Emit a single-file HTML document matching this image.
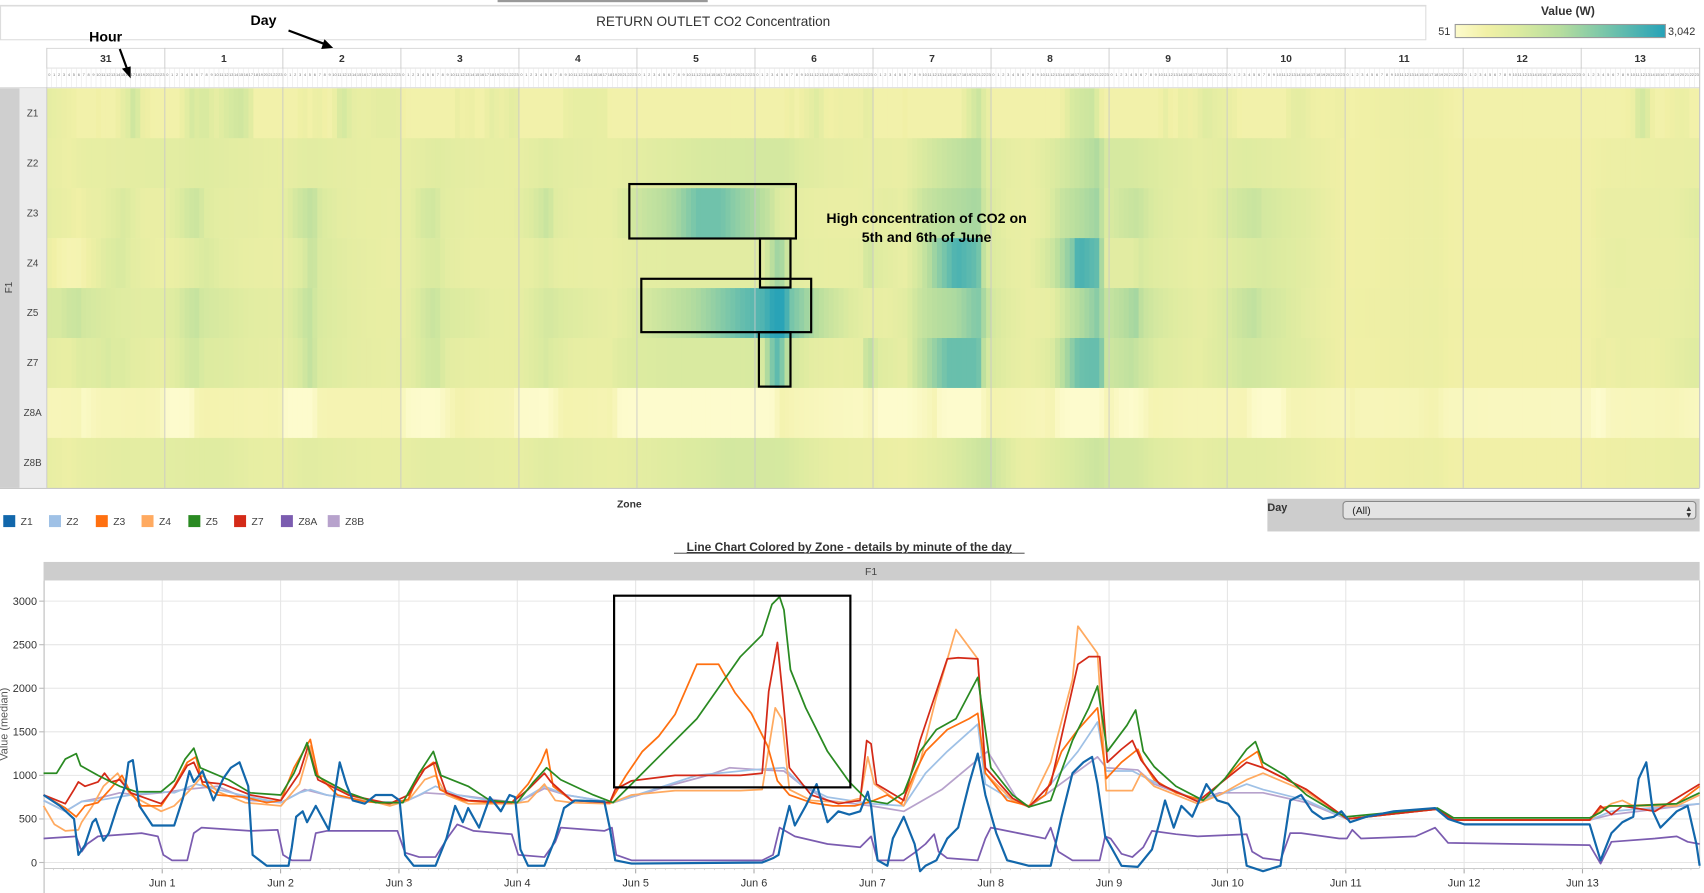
<!DOCTYPE html>
<html><head><meta charset="utf-8"><style>
html,body{margin:0;padding:0;background:#fff;overflow:hidden}
svg{display:block}
text{font-family:"Liberation Sans",sans-serif}
</style></head><body>
<svg id="s" width="1704" height="893" viewBox="0 0 1565 820" preserveAspectRatio="none" xmlns="http://www.w3.org/2000/svg">
<defs>
<linearGradient id="lg" x1="0" x2="1" y1="0" y2="0">
<stop offset="0" stop-color="#fdfbcd"/><stop offset="0.15" stop-color="#f1f0a6"/><stop offset="0.3" stop-color="#dceba0"/><stop offset="0.5" stop-color="#b6dd9e"/><stop offset="0.7" stop-color="#7cc7a9"/><stop offset="1" stop-color="#26a2b8"/>
</linearGradient>
</defs>
<rect x="457" y="0" width="193" height="2" fill="#999"/>
<line x1="0" y1="5" x2="1310" y2="5" stroke="#ddd"/>
<rect x="0.5" y="5.5" width="1309" height="31" fill="none" stroke="#ddd"/>
<text x="655" y="24" text-anchor="middle" font-size="12.5" fill="#333">RETURN OUTLET CO2 Concentration</text>
<text x="1440" y="14" text-anchor="middle" font-size="11" font-weight="bold" fill="#333">Value (W)</text>
<rect x="1336.5" y="22.5" width="193" height="12" fill="url(#lg)" stroke="#999"/>
<text x="1332" y="32" text-anchor="end" font-size="10" fill="#333">51</text>
<text x="1532" y="32" font-size="10" fill="#333">3,042</text>
<rect x="0" y="81" width="18" height="367" fill="#cfcfcf"/>
<rect x="18" y="81" width="25" height="367" fill="#ececec"/>
<text x="11" y="264" font-size="9" fill="#444" transform="rotate(-90 11 264)" text-anchor="middle">F1</text>
<g id="heat"></g>
<g id="hdr"></g>
<text x="97" y="38" text-anchor="middle" font-size="13" font-weight="bold" fill="#000">Hour</text>
<line x1="110" y1="45" x2="117" y2="64" stroke="#000" stroke-width="2"/><polygon points="120,72 112,63 120,61" fill="#000"/>
<text x="242" y="23" text-anchor="middle" font-size="13" font-weight="bold" fill="#000">Day</text>
<line x1="265" y1="28" x2="297" y2="40" stroke="#000" stroke-width="2"/><polygon points="306,44 295,45 298,36" fill="#000"/>
<g fill="none" stroke="#000" stroke-width="2">
<rect x="578" y="169" width="153" height="50"/><rect x="698" y="219" width="28" height="45"/>
<rect x="589" y="256" width="156" height="49"/><rect x="697" y="305" width="29" height="50"/>
</g>
<text x="851" y="205" text-anchor="middle" font-size="13" font-weight="bold" fill="#000">High concentration of CO2 on</text>
<text x="851" y="222" text-anchor="middle" font-size="13" font-weight="bold" fill="#000">5th and 6th of June</text>
<text x="578" y="466" text-anchor="middle" font-size="9.5" font-weight="bold" fill="#333">Zone</text>
<g id="leg"></g>
<rect x="1164" y="458" width="397" height="30" fill="#cdcdcd"/>
<text x="1164" y="469" font-size="10" font-weight="bold" fill="#333">Day</text>
<rect x="1233.5" y="460.5" width="324" height="16" rx="3" fill="#e3e3e3" stroke="#888"/>
<text x="1242" y="472" font-size="9.5" fill="#222">(All)</text>
<text x="1551" y="469" font-size="7" fill="#333" text-anchor="middle">▲</text><text x="1551" y="475" font-size="7" fill="#333" text-anchor="middle">▼</text>
<text x="780" y="506" text-anchor="middle" font-size="11" font-weight="bold" fill="#333" text-decoration="underline">Line Chart Colored by Zone - details by minute of the day</text>
<line x1="619" y1="508" x2="941" y2="508" stroke="#333" stroke-width="0.8"/>
<rect x="40" y="516" width="1521" height="17" fill="#cdcdcd"/>
<text x="800" y="528" text-anchor="middle" font-size="9.5" fill="#444">F1</text>
<g id="lc"></g>
<text x="7" y="665" font-size="10" fill="#555" transform="rotate(-90 7 665)" text-anchor="middle">Value (median)</text>
<rect x="564" y="547" width="217" height="176" fill="none" stroke="#000" stroke-width="2"/>
</svg>
<script>
var NS="http://www.w3.org/2000/svg";
function el(p,t,a,txt){var e=document.createElementNS(NS,t);for(var k in a)e.setAttribute(k,a[k]);if(txt!=null)e.textContent=txt;p.appendChild(e);return e;}
function P(s){var a=s.trim().split(/\s+/).map(function(q){var r=q.split(',');return [+r[0],+r[1]];});return a;}
var S={
Z8A:["#7b5cb0",P("40,770 70,768 75,782 80,775 90,768 130,765 145,768 150,785 158,790 172,790 178,765 185,760 230,763 255,762 260,785 268,790 285,790 290,765 300,763 365,763 372,783 385,787 400,787 412,768 420,757 435,763 470,766 476,785 500,787 510,773 515,760 555,763 562,760 566,785 580,790 640,790 700,790 710,785 716,760 730,768 760,775 790,778 800,768 806,790 830,790 840,783 850,775 858,766 862,782 870,788 898,790 905,770 910,760 930,764 960,770 965,760 972,782 985,790 1010,790 1015,768 1020,770 1030,784 1040,787 1050,778 1058,763 1080,766 1100,768 1145,766 1150,782 1160,788 1176,790 1185,765 1195,765 1230,770 1237,770 1242,762 1250,770 1300,768 1318,760 1330,774 1460,776 1470,793 1480,773 1520,770 1540,768 1550,773 1561,775")],
Z8B:["#b7a2cc",P("40,735 60,745 75,736 90,733 110,728 125,730 148,728 170,725 200,722 230,735 258,737 280,725 300,730 340,736 370,737 390,728 420,730 475,737 500,724 520,730 563,737 620,720 650,712 670,705 700,707 720,708 735,720 760,735 800,740 830,745 865,725 907,690 935,735 945,741 1008,695 1016,705 1045,707 1060,720 1100,735 1120,728 1160,728 1200,737 1237,752 1320,743 1335,753 1460,753 1480,748 1561,738")],
Z2:["#9fc1e6",P("40,735 60,745 75,736 90,735 120,730 148,727 160,728 180,720 200,725 230,732 258,737 275,728 285,725 300,730 320,733 340,736 370,737 385,730 400,722 420,730 450,735 475,737 490,728 500,722 520,730 563,737 600,725 640,712 690,707 720,705 735,720 760,732 800,738 830,740 850,710 870,690 898,665 905,720 930,735 945,741 965,720 990,690 1008,663 1016,708 1040,708 1060,718 1100,735 1120,730 1145,720 1160,725 1200,735 1237,752 1320,743 1335,753 1460,753 1480,745 1561,738")],
Z4:["#ffaa60",P("40,740 50,757 60,763 72,762 75,755 85,740 95,722 108,710 120,730 148,745 160,740 175,725 186,712 200,727 225,737 258,740 275,720 285,685 290,712 320,730 358,740 375,735 390,716 400,712 410,730 430,738 470,738 485,736 500,720 510,735 525,737 560,738 580,730 620,726 680,726 700,725 712,650 718,660 725,725 745,735 775,737 790,733 797,695 803,720 830,740 845,700 860,640 878,578 898,605 905,710 930,735 945,741 965,700 985,624 990,575 1008,600 1016,726 1040,726 1048,710 1060,722 1080,730 1100,738 1120,730 1145,716 1160,710 1200,727 1237,752 1320,743 1335,753 1460,753 1470,745 1480,738 1490,735 1500,740 1540,740 1561,730")],
Z3:["#ff7010",P("40,730 60,742 70,750 78,740 90,737 100,726 112,712 120,728 130,740 148,740 160,722 172,700 180,695 186,720 200,730 225,732 245,737 258,735 270,705 285,679 292,712 310,730 335,736 358,738 375,734 385,710 398,700 404,725 425,735 450,737 470,737 485,720 497,700 502,688 508,722 525,735 560,737 575,712 590,690 605,676 620,656 640,610 660,610 675,636 690,655 705,685 714,717 725,730 745,737 765,740 785,740 800,736 815,730 828,738 840,710 850,690 870,670 890,660 898,655 905,710 925,735 945,740 960,730 975,690 990,670 1008,650 1016,715 1030,700 1045,688 1050,700 1060,716 1080,728 1105,735 1120,720 1140,700 1155,690 1160,705 1200,725 1237,752 1320,743 1335,753 1460,753 1470,742 1480,740 1490,740 1540,738 1561,722")],
Z7:["#d42a18",P("40,730 60,738 68,725 72,718 78,722 90,718 96,710 102,718 110,716 120,728 148,738 160,723 172,703 178,700 186,718 205,720 230,730 258,735 275,710 283,685 292,716 320,730 358,738 375,730 390,706 400,700 410,728 430,735 470,737 485,725 500,710 506,718 525,735 560,737 565,725 580,717 620,712 680,712 700,710 706,635 714,590 719,640 725,705 745,730 770,738 790,735 796,680 800,683 805,720 830,735 845,680 870,605 880,604 898,605 905,705 930,733 945,741 965,720 990,610 1000,603 1010,603 1017,700 1030,688 1040,680 1048,698 1065,720 1100,736 1125,716 1145,700 1160,705 1200,725 1237,752 1320,743 1335,753 1460,753 1470,740 1480,748 1490,740 1520,745 1561,720")],
Z5:["#2a8a22",P("40,710 52,710 60,697 70,692 74,703 90,712 110,722 125,727 148,727 160,717 170,697 178,687 184,705 210,716 230,728 258,730 270,710 282,682 290,712 320,728 345,737 370,737 385,710 398,690 405,712 430,722 450,735 475,737 490,718 502,705 515,716 545,730 563,737 600,700 640,660 680,603 700,583 709,555 716,548 720,560 726,615 740,650 760,690 780,718 797,735 815,738 830,728 845,690 860,670 878,660 898,622 910,705 930,730 945,741 965,735 985,680 1000,650 1008,630 1017,690 1035,666 1043,652 1050,690 1060,704 1080,722 1105,735 1125,715 1145,688 1153,681 1160,700 1180,712 1200,730 1225,745 1237,750 1320,742 1335,751 1460,751 1470,746 1478,740 1500,740 1540,738 1561,728")],
Z1:["#1267ab",P("40,730 55,740 68,752 72,785 78,776 85,755 88,752 95,772 100,765 108,740 115,722 118,700 122,698 128,740 140,758 160,758 168,733 174,708 178,718 186,708 196,735 205,715 212,705 220,700 228,722 232,785 245,795 265,795 268,778 272,750 278,745 282,755 290,740 302,762 312,700 318,720 324,735 335,738 345,730 360,730 367,735 372,785 380,795 400,795 410,770 418,740 425,755 430,742 440,760 450,732 460,745 468,730 473,732 478,780 485,795 500,795 510,770 518,742 528,735 555,736 560,760 565,790 580,793 700,792 710,788 715,785 720,760 725,740 730,758 740,740 750,720 760,755 770,745 780,748 790,745 797,727 800,740 806,790 815,795 820,770 830,750 840,775 845,800 850,795 860,790 870,770 880,760 890,720 898,692 905,730 915,765 925,790 945,795 965,795 975,750 985,710 995,700 1003,695 1008,720 1015,768 1030,795 1045,796 1058,780 1065,755 1070,735 1078,760 1085,740 1095,750 1108,720 1118,735 1128,738 1138,750 1145,795 1160,800 1176,795 1185,735 1195,730 1205,745 1215,752 1225,750 1232,745 1240,755 1255,750 1280,745 1318,742 1330,752 1345,757 1460,757 1470,790 1480,765 1490,755 1500,750 1505,715 1512,700 1518,745 1525,760 1540,745 1550,740 1558,775 1561,795")]
};
function interp(pts,x){if(x<=pts[0][0])return pts[0][1];for(var i=1;i<pts.length;i++){if(pts[i][0]>=x){var a=pts[i-1],b=pts[i];var f=(x-a[0])/((b[0]-a[0])||1);return a[1]+f*(b[1]-a[1]);}}return pts[pts.length-1][1];}
var stops=[[0,[253,251,205]],[0.15,[241,240,166]],[0.3,[220,235,160]],[0.5,[182,221,158]],[0.7,[124,199,169]],[1,[38,162,184]]];
function col(v){var f=Math.max(0,Math.min(1,(v-51)/2991));for(var i=1;i<stops.length;i++){if(f<=stops[i][0]){var a=stops[i-1],b=stops[i],g=(f-a[0])/(b[0]-a[0]);return 'rgb('+a[1].map(function(c,k){return Math.round(c+g*(b[1][k]-c));}).join(',')+')';}}return 'rgb(38,162,184)';}
var heat=document.getElementById('heat'),rows=['Z1','Z2','Z3','Z4','Z5','Z7','Z8A','Z8B'],rh=367/8,cw=108.4/24;
rows.forEach(function(r,i){var y=81+i*rh;var pts=S[r][1];
for(var h=0;h<336;h++){var t=(h+0.5)/24;var lx=40.3+108.7*t;var yy=interp(pts,lx);var v=(792-yy)/0.08;
if(r=='Z1')v=Math.max(v,450);
el(heat,'rect',{x:(43+h*cw).toFixed(2),y:y.toFixed(2),width:(cw+0.4).toFixed(2),height:(rh+0.3).toFixed(2),fill:col(v)});}
el(heat,'text',{x:30,y:(y+rh/2+3).toFixed(1),'text-anchor':'middle','font-size':9,fill:'#444'},r);});
var hdr=document.getElementById('hdr');
el(hdr,'line',{x1:43,y1:44.5,x2:1561,y2:44.5,stroke:'#ddd'});
el(hdr,'line',{x1:43,y1:62.5,x2:1561,y2:62.5,stroke:'#e4e4e4'});
el(hdr,'line',{x1:0,y1:80.5,x2:1561,y2:80.5,stroke:'#ddd'});
var days=['31','1','2','3','4','5','6','7','8','9','10','11','12','13'];
for(var d=0;d<14;d++){var x0=43+d*108.4;
el(hdr,'line',{x1:x0,y1:44,x2:x0,y2:448,stroke:'#c8c8c8','stroke-width':0.8});
el(hdr,'text',{x:(x0+54.2).toFixed(1),y:57,'text-anchor':'middle','font-size':9.5,'font-weight':'bold',fill:'#333'},days[d]);
for(var h=0;h<24;h++){var hx=x0+h*cw;el(hdr,'line',{x1:hx,y1:63,x2:hx,y2:80,stroke:'#e6e6e6','stroke-width':0.5});
el(hdr,'text',{x:(hx+cw/2).toFixed(1),y:70,'text-anchor':'middle','font-size':3.6,fill:'#777'},String(h));}}
el(hdr,'line',{x1:1561,y1:44,x2:1561,y2:448,stroke:'#c8c8c8'});
el(hdr,'line',{x1:0,y1:448.5,x2:1561,y2:448.5,stroke:'#c8c8c8'});
var leg=document.getElementById('leg'),lx=[3,45,88,130,173,215,258,301];
['Z1','Z2','Z3','Z4','Z5','Z7','Z8A','Z8B'].forEach(function(z,i){el(leg,'rect',{x:lx[i],y:473,width:11,height:11,fill:S[z][0]});el(leg,'text',{x:lx[i]+16,y:482,'font-size':9.5,fill:'#444'},z);});
var lc=document.getElementById('lc');
for(var k=0;k<=6;k++){var y=792-k*40;el(lc,'line',{x1:40,y1:y,x2:1561,y2:y,stroke:'#e6e6e6'});el(lc,'text',{x:34,y:y+3.5,'text-anchor':'end','font-size':10,fill:'#333'},String(k*500));el(lc,'line',{x1:36,y1:y,x2:40,y2:y,stroke:'#bbb'});}
for(var d=1;d<=13;d++){var x=40.3+108.7*d;el(lc,'line',{x1:x,y1:533,x2:x,y2:797,stroke:'#e6e6e6'});el(lc,'line',{x1:x,y1:797,x2:x,y2:802,stroke:'#aaa'});el(lc,'text',{x:x,y:814,'text-anchor':'middle','font-size':10,fill:'#333'},'Jun '+d);}
for(var q=0;q<14*12;q++){var x=40.3+108.7*q/12;el(lc,'line',{x1:x,y1:797,x2:x,y2:799,stroke:'#bbb','stroke-width':0.5});}
el(lc,'line',{x1:40,y1:797.5,x2:1561,y2:797.5,stroke:'#ccc'});
el(lc,'line',{x1:40.5,y1:533,x2:40.5,y2:820,stroke:'#bbb'});
el(lc,'line',{x1:1561,y1:533,x2:1561,y2:797,stroke:'#ccc'});
['Z8A','Z8B','Z2','Z4','Z3','Z7','Z5','Z1'].forEach(function(z){var pts=S[z][1];
el(lc,'polyline',{points:pts.map(function(p){return p[0]+','+p[1];}).join(' '),fill:'none',stroke:S[z][0],'stroke-width':z=='Z1'?2:1.6,'stroke-linejoin':'round'});});
</script>
</body></html>
